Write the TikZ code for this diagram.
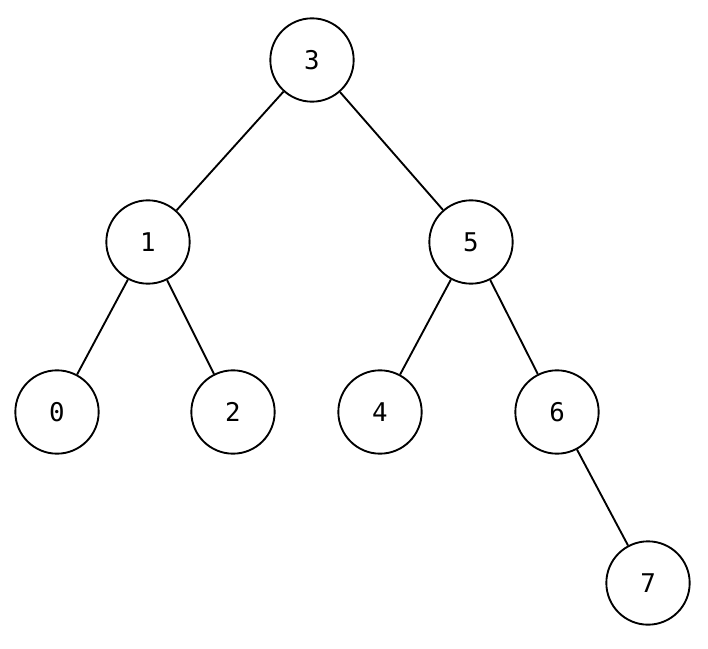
\documentclass[tikz,border=0pt]{standalone}
\usepackage{fontspec}
\setmonofont{DejaVu Sans Mono}
\begin{document}
\begin{tikzpicture}[x=0.03cm,y=-0.03cm,
  nd/.style={circle,draw,line width=1.6pt,minimum size=2.5cm,inner sep=0pt,font=\ttfamily\fontsize{22}{26}\selectfont},
  ed/.style={line width=1.6pt}]
\useasboundingbox (0,0) rectangle (708,648);
\node[nd] (n3) at (312,60) {3};
\node[nd] (n1) at (148,242) {1};
\node[nd] (n5) at (471,242) {5};
\node[nd] (n0) at (57,412) {0};
\node[nd] (n2) at (233,412) {2};
\node[nd] (n4) at (380,412) {4};
\node[nd] (n6) at (557,412) {6};
\node[nd] (n7) at (648,583) {7};
\draw[ed] (n3)--(n1); \draw[ed] (n3)--(n5);
\draw[ed] (n1)--(n0); \draw[ed] (n1)--(n2);
\draw[ed] (n5)--(n4); \draw[ed] (n5)--(n6);
\draw[ed] (n6)--(n7);
\end{tikzpicture}
\end{document}
